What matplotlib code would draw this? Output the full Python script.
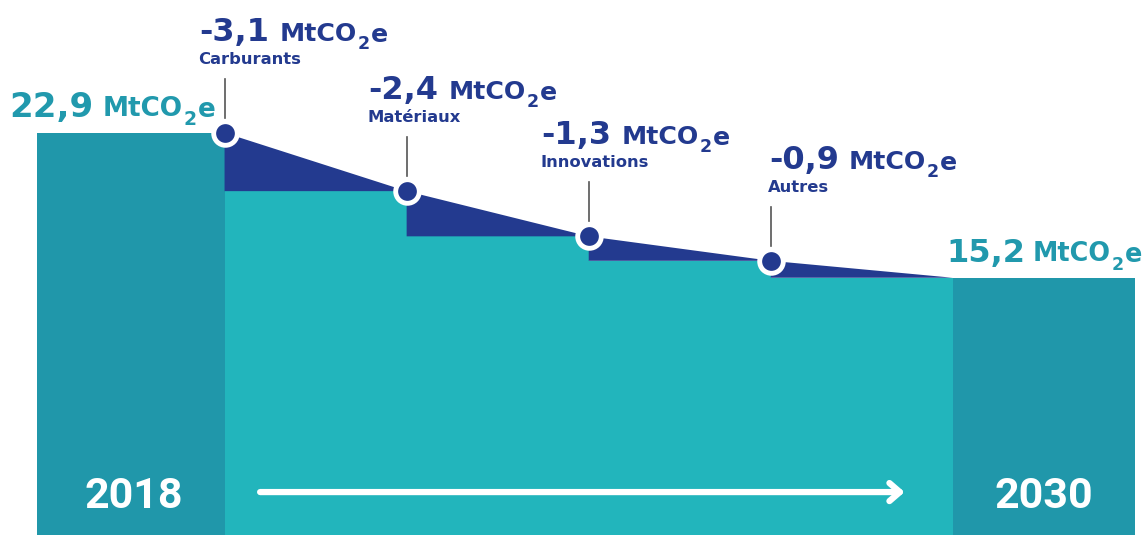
#emissions trajectory 2018 -> 2030 (waterfall style)
import numpy as np
import matplotlib.pyplot as plt
from matplotlib.transforms import offset_copy

#data:
years = ["2018", "2030"]
start_value = 22.9
end_value = 15.2
drops = [3.1, 2.4, 1.3, 0.9]
drop_names = ["Carburants", "Matériaux", "Innovations", "Autres"]

#colours:
bar_col = "#2097aa"
mid_col = "#22b5bc"
dark_col = "#233a8f"
label_teal = "#2199ad"

#levels after each drop:
levels = [start_value]
for d in drops:
    levels.append(round(levels[-1] - d, 1))

def fmt(v):
    return f"{v:.1f}".replace(".", ",")

W, H = 1148, 535
fig = plt.figure(figsize=(W/100, H/100), dpi=100)
ax = fig.add_axes([37/W, 0, 1098/W, 1])
ax.set_xlim(-0.03, 6)
ax.set_ylim(1.54, 29.95)
ax.axis("off")

#start / end bars
ax.bar([-0.03, 5], [start_value, end_value], width=[1.03, 1], align="edge", color=bar_col, zorder=2)
#intermediate steps
xs = np.arange(1, len(drops) + 1)
ax.bar(xs, levels[1:], width=1, align="edge", color=mid_col, zorder=2)
#dark triangles for the reductions
for i in range(len(drops)):
    x0 = xs[i]
    ax.fill([x0, x0 + 1, x0], [levels[i], levels[i + 1], levels[i + 1]],
            color=dark_col, lw=0, zorder=3)

#label helper: value + "MtCO2e" with subscript
def value_label(x, y, text, color, size, dx, dy, usize=0.79, gap=10):
    kw = dict(fontweight="bold", color=color, family="DejaVu Sans", ha="left", textcoords="offset pixels")
    t = ax.annotate(text, (x, y), xytext=(dx, dy), fontsize=size, va="baseline", zorder=6, **kw)
    u = ax.annotate("MtCO", xy=(1, 0), xycoords=t, xytext=(gap, 2), fontsize=size*usize, va="bottom", **kw)
    s = ax.annotate("2", xy=(1, 0), xycoords=u, xytext=(1, -7), fontsize=size*0.55, va="bottom", **kw)
    ax.annotate("e", xy=(1, 0), xycoords=s, xytext=(1, 6), fontsize=size*usize, va="bottom", **kw)

#dots, leader lines and labels
label_dx = [-25, -38, -47, -2]
for i in range(len(drops)):
    x0 = xs[i]
    y0 = levels[i]
    ax.plot(x0, y0, "o", ms=17, color=dark_col, mec="white", mew=3.5, zorder=5)
    # leader line, in pixels above the dot
    p1 = offset_copy(ax.transData, fig=fig, x=0, y=15, units="dots").transform((x0, y0))
    p2 = offset_copy(ax.transData, fig=fig, x=0, y=54, units="dots").transform((x0, y0))
    fig.add_artist(plt.Line2D([p1[0]/W, p2[0]/W], [p1[1]/H, p2[1]/H], color="#555555", lw=1.2))
    value_label(x0, y0, "-" + fmt(drops[i]), dark_col, 23, label_dx[i], 92)
    ax.annotate(drop_names[i], (x0, y0), xytext=(label_dx[i] - 1, 69), textcoords="offset pixels",
                fontsize=11.8, fontweight="bold", color=dark_col, family="DejaVu Sans",
                va="baseline", ha="left")

#start / end values
value_label(0, start_value, fmt(start_value), label_teal, 24.5, -33, 16, usize=0.77, gap=9)
value_label(5, end_value, fmt(end_value), label_teal, 23, -7, 16, usize=0.8, gap=8)

#years
ax.text(0.5, 3.6, years[0], color="white", fontsize=31, fontweight="bold",
        family="Roboto", ha="center", va="center", zorder=6)
ax.text(5.5, 3.6, years[1], color="white", fontsize=31, fontweight="bold",
        family="Roboto", ha="center", va="center", zorder=6)

#arrow
ax.annotate("", xy=(4.75, 3.82), xytext=(1.18, 3.82),
            arrowprops=dict(arrowstyle="->,head_length=0.75,head_width=0.65",
                            color="white", lw=4.5, capstyle="round", joinstyle="round"),
            zorder=6)

plt.savefig("out.png", dpi=100)
